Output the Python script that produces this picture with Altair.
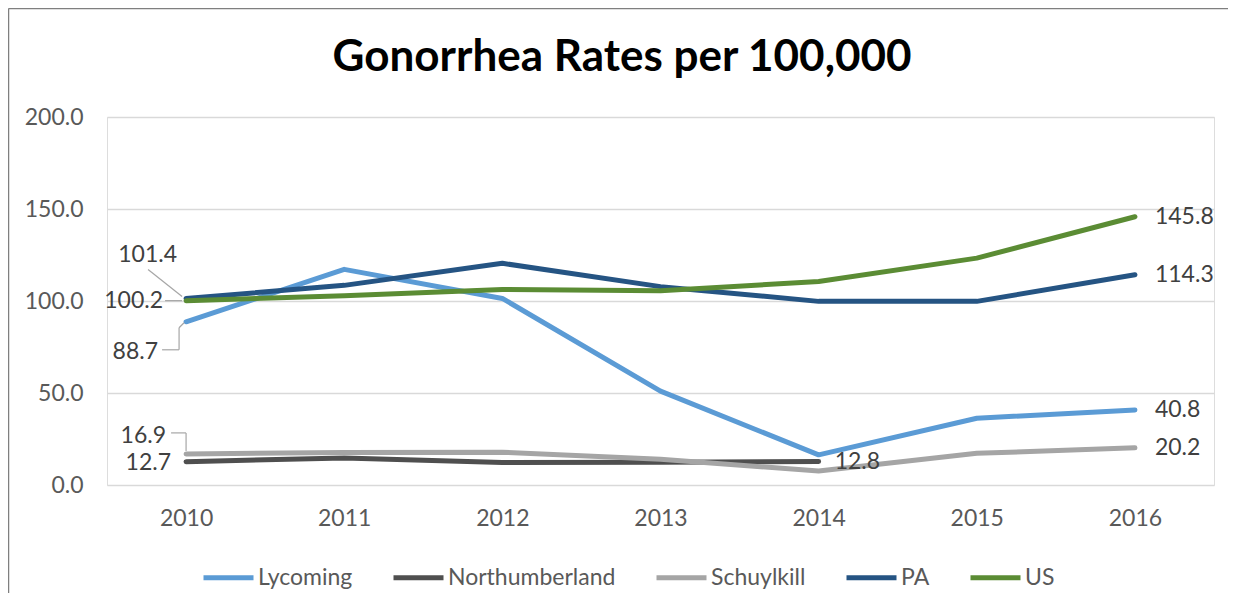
import altair as alt
import pandas as pd

years = ["2010", "2011", "2012", "2013", "2014", "2015", "2016"]
series = ["Lycoming", "Northumberland", "Schuylkill", "PA", "US"]
lycoming = [88.7, 117.2, 101.4, 51.0, 16.4, 36.3, 40.8]
northumberland = [12.7, 14.7, 12.2, 12.4, 12.8, None, None]
schuylkill = [16.9, 17.6, 17.8, 14.0, 7.6, 17.2, 20.2]
pa = [101.4, 108.5, 120.5, 107.8, 99.8, 99.8, 114.3]
us = [100.2, 102.9, 106.3, 105.6, 110.6, 123.3, 145.8]
colors = ["#5B9BD5", "#4F4F4F", "#A5A5A5", "#255483", "#5B8C34"]
title_text = "Gonorrhea Rates per 100,000"

values = {"Lycoming": lycoming, "Northumberland": northumberland,
          "Schuylkill": schuylkill, "PA": pa, "US": us}
rows = []
for s in series:
    for y, v in zip(years, values[s]):
        if v is not None:
            rows.append({"series": s, "year": y, "value": v})
df = pd.DataFrame(rows)

W, H = 1107, 368
FONT = "Lato"

xscale = alt.Scale(type="point", padding=0.5, domain=years)
yscale = alt.Scale(domain=[0, 200], nice=False, zero=True)

xenc = alt.X("year:N", scale=xscale,
             axis=alt.Axis(title=None, labelAngle=0, domain=False, ticks=False,
                           grid=False, labelPadding=22, labelFontSize=23,
                           labelColor="#595959", labelFont=FONT))
yenc = alt.Y("value:Q", scale=yscale,
             axis=alt.Axis(title=None, values=[0, 50, 100, 150, 200], format=".1f",
                           domain=False, ticks=False, grid=True, gridColor="#D9D9D9",
                           gridWidth=1.5, labelPadding=24, labelFontSize=23,
                           labelColor="#595959", labelFont=FONT))
color = alt.Color("series:N", scale=alt.Scale(domain=series, range=colors),
                  legend=alt.Legend(title=None, orient="none", direction="horizontal",
                                    legendX=94, legendY=433, symbolType="stroke",
                                    symbolSize=2500, symbolStrokeWidth=5,
                                    labelFontSize=23, labelFont=FONT,
                                    labelColor="#595959", labelOffset=2,
                                    labelLimit=400, columnPadding=30,
                                    symbolOffset=0))

lines = alt.Chart(df).mark_line(strokeWidth=5, strokeCap="round",
                                strokeJoin="round").encode(
    x=xenc, y=yenc, color=color, order=alt.Order("year:N"))


def label(s, y, dx, dy, align):
    d = df[(df.series == s) & (df.year == y)]
    return alt.Chart(d).mark_text(align=align, baseline="middle", dx=dx, dy=dy,
                                  fontSize=23, font=FONT, color="#404040").encode(
        x=alt.X("year:N", scale=xscale),
        y=alt.Y("value:Q", scale=yscale),
        text=alt.Text("value:Q", format=".1f"))


labels = [
    label("US", "2016", 20, 0, "left"),
    label("PA", "2016", 20, 0, "left"),
    label("Lycoming", "2016", 20, 0, "left"),
    label("Schuylkill", "2016", 20, 0, "left"),
    label("Northumberland", "2014", 16, 1, "left"),
    label("PA", "2010", -9, -43, "right"),
    label("US", "2010", -23, 0, "right"),
    label("Lycoming", "2010", -28, 30, "right"),
    label("Schuylkill", "2010", -20, -18, "right"),
    label("Northumberland", "2010", -15, 1, "right"),
]

# leader lines (annotation, pixel coordinates within the plot area)
step = W / len(years)
x0 = step * 0.5


def py(v):
    return H * (1 - v / 200)


leaders = [
    (x0 - 38, py(101.4) - 29, x0 - 4, py(101.4) - 2),
    (x0 - 21, py(100.2), x0 - 4, py(100.2)),
    (x0 - 24, py(88.7) + 28, x0 - 7, py(88.7) + 28),
    (x0 - 7, py(88.7) + 28, x0 - 7, py(88.7) + 6),
    (x0 - 7, py(88.7) + 6, x0 - 2, py(88.7) + 1),
    (x0 - 15, py(16.9) - 21, x0, py(16.9) - 21),
    (x0, py(16.9) - 21, x0, py(16.9) - 3),
]
one = df.head(1)
leader_layers = [
    alt.Chart(one).mark_rule(color="#A6A6A6", strokeWidth=1.2).encode(
        x=alt.value(a), y=alt.value(b), x2=alt.value(c), y2=alt.value(d))
    for a, b, c, d in leaders
]

border = [
    alt.Chart(one).mark_rule(color="#7F7F7F", strokeWidth=1.5).encode(
        x=alt.value(-98.5), y=alt.value(-108.5), x2=alt.value(W + 14), y2=alt.value(-108.5)),
    alt.Chart(one).mark_rule(color="#7F7F7F", strokeWidth=1.5).encode(
        x=alt.value(-98.5), y=alt.value(-108.5), x2=alt.value(-98.5), y2=alt.value(H + 110)),
]

title = alt.Chart(pd.DataFrame({"t": [title_text]})).mark_text(
    font=FONT, fontSize=44, fontWeight="bold", color="#000000",
    align="center", baseline="middle").encode(
    x=alt.value(515), y=alt.value(-59), text="t:N")

chart = alt.layer(*border, lines, *leader_layers, *labels, title).properties(
    width=W, height=H,
    autosize=alt.AutoSizeParams(type="none"),
    padding={"left": 99, "top": 109, "right": 17, "bottom": 108},
).configure_view(stroke=None).configure(background="white")

chart.save("out.html", embed_options={"renderer": "svg", "actions": False})
